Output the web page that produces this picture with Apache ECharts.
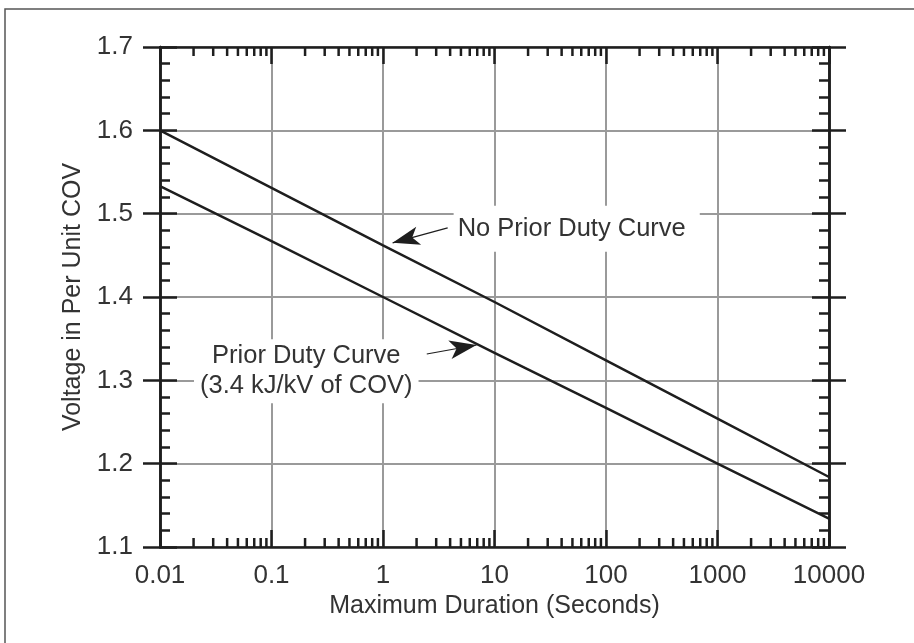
<!DOCTYPE html>
<html>
<head>
<meta charset="utf-8">
<script src="https://cdn.jsdelivr.net/npm/echarts@6/dist/echarts.min.js"></script>
<style>
  html, body { margin: 0; padding: 0; background: #fff; }
  #chart { width: 914px; height: 643px; }
</style>
</head>
<body>
<div id="chart"></div>
<script>
// durations (seconds) at each decade
const durations = [0.01, 0.1, 1, 10, 100, 1000, 10000];
// per-unit COV
const noPriorDuty = [1.600, 1.531, 1.462, 1.394, 1.324, 1.254, 1.184];
const priorDuty = [1.533, 1.467, 1.400, 1.333, 1.267, 1.200, 1.134];

const xTickLabels = ['0.01', '0.1', '1', '10', '100', '1000', '10000'];

// minor ticks on the log axis (2..9 in every decade)
const decadeStarts = [0.01, 0.1, 1, 10, 100, 1000];
const minorSteps = [2, 3, 4, 5, 6, 7, 8, 9];
const minorTicks = [];
decadeStarts.forEach(d => minorSteps.forEach(m => minorTicks.push(+(d * m).toPrecision(3))));

const ink = '#1e1e1e';
const gridGray = '#9a9a9a';
const textColor = '#333';
const font = 'Liberation Sans';

const chart = echarts.init(document.getElementById('chart'));

const tickAxis = (extra) => Object.assign({
  type: 'value',
  min: 1.1,
  max: 1.7,
  interval: 0.1,
  axisLine: { show: true, lineStyle: { color: ink, width: 2.5 } },
  axisTick: { show: true, length: 17, lineStyle: { color: ink, width: 2.5 } },
  axisLabel: { show: false },
  splitLine: { show: false }
}, extra);

const option = {
  backgroundColor: '#fff',
  animation: false,
  grid: { left: 160, right: 85, top: 47, bottom: 96 },
  graphic: [{
    type: 'rect',
    shape: { x: 5, y: 9, width: 1000, height: 800 },
    style: { fill: 'none', stroke: '#555', lineWidth: 1.5 },
    z: -10
  }],
  xAxis: [
    {
      type: 'log',
      logBase: 10,
      min: 0.01,
      max: 10000,
      position: 'bottom',
      name: 'Maximum Duration (Seconds)',
      nameLocation: 'middle',
      nameGap: 47,
      nameTextStyle: { color: textColor, fontSize: 25, fontFamily: font },
      axisLine: { lineStyle: { color: ink, width: 2.5 } },
      axisTick: { inside: true, length: 17, lineStyle: { color: ink, width: 2.5 } },
      axisLabel: {
        color: textColor, fontSize: 26, fontFamily: font, margin: 16,
        formatter: v => xTickLabels[durations.indexOf(v)] || ''
      },
      splitLine: { show: true, lineStyle: { color: gridGray, width: 2 } }
    },
    {
      type: 'log',
      logBase: 10,
      min: 0.01,
      max: 10000,
      position: 'top',
      axisLine: { lineStyle: { color: ink, width: 2.5 } },
      axisTick: { inside: true, length: 17, lineStyle: { color: ink, width: 2.5 } },
      axisLabel: { show: false },
      splitLine: { show: false }
    }
  ],
  yAxis: [
    tickAxis({
      position: 'left',
      name: 'Voltage in Per Unit COV',
      nameLocation: 'middle',
      nameGap: 69,
      nameTextStyle: { color: textColor, fontSize: 25, fontFamily: font },
      axisTick: { show: true, inside: true, length: 17, lineStyle: { color: ink, width: 2.5 } },
      minorTick: { show: true, splitNumber: 5, length: 10, lineStyle: { color: ink, width: 2.5 } },
      axisLabel: {
        show: true, color: textColor, fontSize: 26, fontFamily: font, margin: 27,
        formatter: v => v.toFixed(1)
      },
      splitLine: { show: true, lineStyle: { color: gridGray, width: 2 } }
    }),
    tickAxis({ position: 'left' }),
    tickAxis({
      position: 'right',
      axisTick: { show: true, inside: true, length: 17, lineStyle: { color: ink, width: 2.5 } },
      minorTick: { show: true, splitNumber: 5, length: 10, lineStyle: { color: ink, width: 2.5 } }
    }),
    tickAxis({ position: 'right' })
  ],
  series: [
    {
      name: 'No Prior Duty Curve',
      type: 'line',
      data: durations.map((d, i) => [d, noPriorDuty[i]]),
      symbol: 'none',
      lineStyle: { color: ink, width: 2.5 },
      z: 5,
      markPoint: {
        symbol: 'circle',
        symbolSize: 0,
        label: {
          show: true,
          position: 'inside',
          align: 'left',
          formatter: 'No Prior Duty Curve',
          color: textColor, fontSize: 25.5, fontFamily: font,
          backgroundColor: '#fff',
          padding: [10, 14, 10, 4]
        },
        data: [{ coord: [4.3, 1.482] }]
      },
      markLine: {
        silent: true,
        symbol: ['none', 'arrow'],
        symbolSize: [14, 27],
        label: { show: false },
        lineStyle: { color: ink, width: 1.2, type: 'solid' },
        data: [[{ coord: [3.8, 1.483] }, { coord: [1.22, 1.465] }]]
      }
    },
    {
      name: 'Prior Duty Curve',
      type: 'line',
      data: durations.map((d, i) => [d, priorDuty[i]]),
      symbol: 'none',
      lineStyle: { color: ink, width: 2.5 },
      z: 5,
      markPoint: {
        symbol: 'circle',
        symbolSize: 0,
        label: {
          show: true,
          position: 'inside',
          align: 'center',
          formatter: 'Prior Duty Curve\n(3.4 kJ/kV of COV)',
          color: textColor, fontSize: 25.5, fontFamily: font,
          lineHeight: 30,
          backgroundColor: '#fff',
          padding: [2, 6, 2, 6]
        },
        data: [{ coord: [0.205, 1.311] }]
      },
      markLine: {
        silent: true,
        symbol: ['none', 'arrow'],
        symbolSize: [14, 27],
        label: { show: false },
        lineStyle: { color: ink, width: 1.2, type: 'solid' },
        data: [[{ coord: [2.47, 1.3316] }, { coord: [6.9, 1.3424] }]]
      }
    },
    {
      name: 'minor ticks',
      type: 'custom',
      silent: true,
      data: minorTicks,
      encode: { x: 0 },
      renderItem: (params, api) => {
        const v = api.value(0);
        const bottom = api.coord([v, 1.1]);
        const top = api.coord([v, 1.7]);
        const style = { stroke: ink, lineWidth: 2.5 };
        return {
          type: 'group',
          children: [
            { type: 'line', shape: { x1: bottom[0], y1: bottom[1], x2: bottom[0], y2: bottom[1] - 9 }, style },
            { type: 'line', shape: { x1: top[0], y1: top[1], x2: top[0], y2: top[1] + 9 }, style }
          ]
        };
      },
      z: 4
    }
  ]
};

chart.setOption(option);
</script>
</body>
</html>
